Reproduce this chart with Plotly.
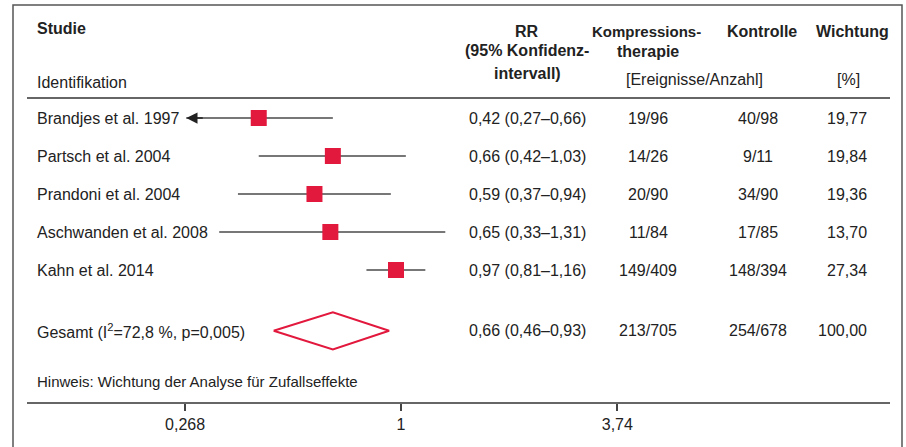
import numpy as np
import plotly.graph_objects as go

# ---------------- data ----------------
studies = ["Brandjes et al. 1997", "Partsch et al. 2004", "Prandoni et al. 2004",
           "Aschwanden et al. 2008", "Kahn et al. 2014"]
rr = [0.42, 0.66, 0.59, 0.65, 0.97]
ci_low = [0.27, 0.42, 0.37, 0.33, 0.81]
ci_high = [0.66, 1.03, 0.94, 1.31, 1.16]
rr_text = ["0,42 (0,27–0,66)", "0,66 (0,42–1,03)", "0,59 (0,37–0,94)",
           "0,65 (0,33–1,31)", "0,97 (0,81–1,16)"]
komp = ["19/96", "14/26", "20/90", "11/84", "149/409"]
kontr = ["40/98", "9/11", "34/90", "17/85", "148/394"]
weights = ["19,77", "19,84", "19,36", "13,70", "27,34"]

pooled_label = "Gesamt (I<sup>2</sup>=72,8 %, p=0,005)"
pooled_rr = 0.66
pooled_low = 0.46
pooled_high = 0.93
pooled_text = "0,66 (0,46–0,93)"
pooled_komp = "213/705"
pooled_kontr = "254/678"
pooled_weight = "100,00"

tick_vals = [0.268, 1, 3.74]
tick_text = ["0,268", "1", "3,74"]
note = "Hinweis: Wichtung der Analyse für Zufallseffekte"

# ---------------- layout helpers ----------------
W, H = 906, 447
RED = "#E2183D"
TXT = "#222222"
LN = "#4a4a4a"
FONT = "Liberation Sans, Arial, sans-serif"
FS = 16

def px(x):
    return x / W

def py(y):
    return 1 - y / H

row_y = list(range(len(studies)))
pooled_y = 5.6

fig = go.Figure()

# CI lines
xs, ys = [], []
for lo, hi, y in zip(ci_low, ci_high, row_y):
    xs += [lo, hi, None]
    ys += [y, y, None]
fig.add_trace(go.Scatter(x=xs, y=ys, mode="lines", line=dict(color=LN, width=1.5),
                         hoverinfo="skip", showlegend=False))

# point estimates
fig.add_trace(go.Scatter(x=rr, y=row_y, mode="markers",
                         marker=dict(symbol="square", size=16, color=RED),
                         showlegend=False))

# pooled diamond
fig.add_trace(go.Scatter(x=[pooled_low, pooled_rr, pooled_high, pooled_rr, pooled_low],
                         y=[pooled_y, pooled_y - 0.49, pooled_y, pooled_y + 0.49, pooled_y],
                         mode="lines", fill="toself", fillcolor="white",
                         line=dict(color=RED, width=2), showlegend=False))

shapes = []
# vertical line at RR = 1
shapes.append(dict(type="line", xref="x", yref="paper", x0=np.log10(1), x1=np.log10(1),
                   y0=py(409), y1=py(99), line=dict(color=LN, width=1.5), layer="below"))
# dashed line at pooled
shapes.append(dict(type="line", xref="x", yref="paper", x0=np.log10(pooled_rr), x1=np.log10(pooled_rr),
                   y0=py(409), y1=py(99), line=dict(color="#222", width=1.5, dash="3px,3px"),
                   layer="below"))
# outer frame
shapes.append(dict(type="rect", xref="paper", yref="paper", x0=px(13), x1=px(902),
                   y0=py(460), y1=py(5), line=dict(color="#555", width=1.5)))
fig.update_layout(shapes=shapes)

ann = []

def text(x, y, s, yref="paper", anchor="left", size=FS, bold=False):
    if bold:
        s = "<b>" + s + "</b>"
    ann.append(dict(x=x, y=y, xref="paper", yref=yref, text=s, showarrow=False,
                    xanchor=anchor, yanchor="middle", font=dict(size=size, color=TXT, family=FONT)))

# header
text(px(35), py(29), "Studie", bold=True)
text(px(35), py(82), "Identifikation")
text(px(527), py(31), "RR", anchor="center", bold=True)
text(px(527), py(51), "(95% Konfidenz-", anchor="center", bold=True)
text(px(527), py(73), "intervall)", anchor="center", bold=True)
text(px(646), py(31), "Kompressions-", anchor="center", bold=True, size=15)
text(px(648), py(52), "therapie", anchor="center", bold=True)
text(px(694), py(79), "[Ereignisse/Anzahl]", anchor="center")
text(px(762), py(31), "Kontrolle", anchor="center", bold=True)
text(px(852), py(31), "Wichtung", anchor="center", bold=True)
text(px(848), py(79), "[%]", anchor="center")

# rows
for i, y in enumerate(row_y):
    text(px(35), y, studies[i], yref="y")
    text(px(527), y, rr_text[i], yref="y", anchor="center")
    text(px(648), y, komp[i], yref="y", anchor="center")
    text(px(758), y, kontr[i], yref="y", anchor="center")
    text(px(869), y, weights[i], yref="y", anchor="right")

text(px(35), pooled_y, pooled_label, yref="y")
text(px(527), pooled_y, pooled_text, yref="y", anchor="center")
text(px(648), pooled_y, pooled_komp, yref="y", anchor="center")
text(px(758), pooled_y, pooled_kontr, yref="y", anchor="center")
text(px(869), pooled_y, pooled_weight, yref="y", anchor="right")

text(px(35), py(381), note, size=15)

# arrow for truncated CI
ann.append(dict(x=np.log10(ci_low[0]), y=row_y[0], xref="x", yref="y", ax=18, ay=0,
                showarrow=True, arrowhead=2, arrowsize=1.5, arrowwidth=1.5, arrowcolor="#222", text=""))

fig.update_layout(annotations=ann)

# axes: pixel = 401 + 377.6*log10(v)
k = 377.6
x_lo = (27 - 401) / k
x_hi = (890 - 401) / k
y_top = (99 - 118) / 38
y_bot = (402 - 118) / 38

fig.update_layout(
    width=W, height=H,
    margin=dict(l=0, r=0, t=0, b=0),
    paper_bgcolor="white", plot_bgcolor="white",
    xaxis=dict(type="log", domain=[px(27), px(890)], range=[x_lo, x_hi],
               showgrid=False, zeroline=False, showline=True, mirror=True,
               linecolor="#666", linewidth=2,
               tickvals=tick_vals, ticktext=tick_text, ticks="outside", ticklen=7,
               tickwidth=1.5, tickcolor="#444",
               tickfont=dict(size=FS, color=TXT, family=FONT)),
    yaxis=dict(domain=[py(402), py(99)], range=[y_bot, y_top], visible=False,
               showgrid=False, zeroline=False),
    showlegend=False,
)

fig.write_html("out.html", config={"displayModeBar": False},
               post_script="document.body.style.margin='0';")
